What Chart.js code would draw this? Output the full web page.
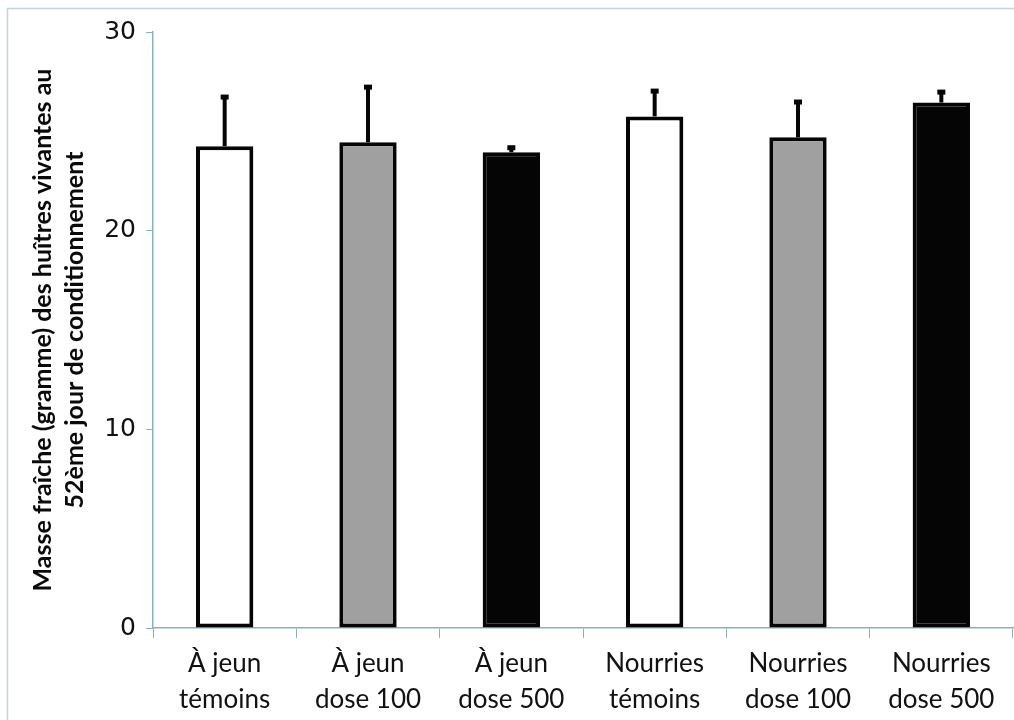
<!DOCTYPE html>
<html>
<head>
<meta charset="utf-8">
<script src="https://cdn.jsdelivr.net/npm/chart.js@4/dist/chart.umd.min.js"></script>
<style>
  html, body { margin: 0; padding: 0; background: #fff; }
  #wrap { width: 1014px; height: 720px; }
</style>
</head>
<body>
<div id="wrap"><canvas id="myChart" width="1014" height="720"></canvas></div>
<script>
// categories and values
const categories = [
    ['À jeun', 'témoins'],
    ['À jeun', 'dose 100'],
    ['À jeun', 'dose 500'],
    ['Nourries', 'témoins'],
    ['Nourries', 'dose 100'],
    ['Nourries', 'dose 500']
];
const masses = [24.25, 24.45, 23.95, 25.75, 24.7, 26.45];
const errors = [2.5, 2.8, 0.25, 1.3, 1.8, 0.55];
const fills = ['#ffffff', '#a0a0a0', '#050505', '#ffffff', '#a0a0a0', '#050505'];
const yTicks = [0, 10, 20, 30];

const axisColor = '#88afc4';

// draws the upper error bars from the data arrays
const errorBars = {
    id: 'errorBars',
    afterDatasetsDraw(chart) {
        const ctx = chart.ctx;
        const y = chart.scales.y;
        const meta = chart.getDatasetMeta(0);
        ctx.save();
        ctx.strokeStyle = '#050505';
        ctx.lineWidth = 4;
        meta.data.forEach(function(bar, i) {
            const top = y.getPixelForValue(masses[i]);
            const end = y.getPixelForValue(masses[i] + errors[i]);
            ctx.beginPath();
            ctx.moveTo(bar.x, top);
            ctx.lineTo(bar.x, end);
            ctx.stroke();
            ctx.fillStyle = '#050505';
            ctx.fillRect(bar.x - 4, end - 2, 8, 5);
        });
        ctx.restore();
    }
};

// light frame around the whole chart
const frame = {
    id: 'frame',
    beforeDraw(chart) {
        const ctx = chart.ctx;
        ctx.save();
        ctx.strokeStyle = '#c3d3dc';
        ctx.lineWidth = 1.5;
        ctx.strokeRect(7.5, 8.5, chart.width + 10, chart.height + 10);
        ctx.restore();
    }
};

window.onload = function() {
    const ctx = document.getElementById('myChart').getContext('2d');
    new Chart(ctx, {
        type: 'bar',
        data: {
            labels: categories,
            datasets: [{
                data: masses,
                backgroundColor: fills,
                borderColor: '#050505',
                borderWidth: 4,
                borderSkipped: false,
                barPercentage: 0.4,
                categoryPercentage: 1.0
            }]
        },
        options: {
            responsive: false,
            animation: false,
            layout: { padding: { top: 32, right: 1, left: 0, bottom: 0 } },
            plugins: {
                legend: { display: false },
                tooltip: { enabled: false }
            },
            scales: {
                x: {
                    grid: {
                        display: true,
                        drawOnChartArea: false,
                        color: axisColor,
                        tickLength: 10,
                        offset: true
                    },
                    border: { color: axisColor, width: 1.5 },
                    ticks: {
                        color: '#111',
                        font: { family: 'Lato', size: 26, lineHeight: 1.385 },
                        padding: 8,
                        maxRotation: 0
                    },
                    afterFit(scale) { scale.height = 92; }
                },
                y: {
                    min: 0,
                    max: 30,
                    afterBuildTicks(scale) {
                        scale.ticks = yTicks.map(function(v) { return { value: v }; });
                    },
                    grid: {
                        display: true,
                        drawOnChartArea: false,
                        color: axisColor,
                        tickLength: 7
                    },
                    border: { color: axisColor, width: 1.5 },
                    ticks: {
                        color: '#111',
                        font: { family: 'DejaVu Sans', size: 25 },
                        padding: 10
                    },
                    title: {
                        display: true,
                        text: ['Masse fraîche (gramme) des huîtres vivantes au', '52ème jour de conditionnement'],
                        color: '#0a0a0a',
                        font: { family: 'Lato', size: 25, weight: 'bold', lineHeight: 1.28 },
                        padding: { top: 27, bottom: 0 }
                    },
                    afterFit(scale) { scale.width = 153; }
                }
            }
        },
        plugins: [frame, errorBars]
    });
};
</script>
</body>
</html>
